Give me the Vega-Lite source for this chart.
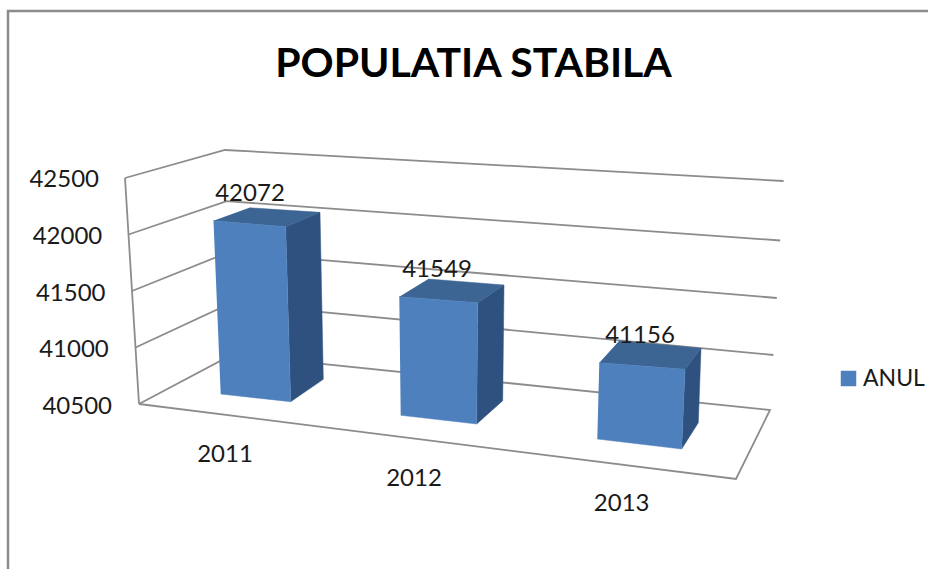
{
"$schema":"https://vega.github.io/schema/vega-lite/v6.json",
"autosize":"none","width":925,"height":565,
"padding":{"left":8,"top":11,"right":0,"bottom":0},
"background":"white",
"config":{"view":{"stroke":"#8c8c8c","strokeWidth":2.5}},
"title":{"text":"POPULATIA STABILA","font":"Lato","fontSize":41,"fontWeight":"bold","color":"#000000","anchor":"middle","offset":-75,"dx":3},
"datasets":{
"bars":[{"year":"2011","value":42072},{"year":"2012","value":41549},{"year":"2013","value":41156}],
"ticks":[{"value":40500},{"value":41000},{"value":41500},{"value":42000},{"value":42500}]
},
"encoding":{
"x":{"field":"sx","type":"quantitative","axis":null,"scale":{"domain":[8,933],"nice":false,"zero":false}},
"y":{"field":"sy","type":"quantitative","axis":null,"scale":{"domain":[11,576],"reverse":true,"nice":false,"zero":false}}
},
"layer":[
{"data":{"name":"ticks"},
"transform":[
{"calculate":"indexof([40500,41000,41500,42000,42500],datum.value)","as":"t"},
{"calculate":"datum.value-40500","as":"d"},
{"calculate":"[139-datum.d*0.007,404-datum.d*0.113]","as":"f"},
{"calculate":"[232-datum.d*0.0035,354.6-datum.d*0.1023]","as":"b"},
{"calculate":"[770+datum.d*0.0068,[410,355,298,240.5,181][datum.t]]","as":"r"},
{"calculate":"datum.t==0?[[datum.f[0],datum.f[1],0],[datum.b[0],datum.b[1],1],[datum.r[0],datum.r[1],2],[736,479,3],[datum.f[0],datum.f[1],4]]:[[datum.f[0],datum.f[1],0],[datum.b[0],datum.b[1],1],[datum.r[0],datum.r[1],2]]","as":"p"},
{"flatten":["p"]},
{"calculate":"datum.p[0]","as":"sx"},{"calculate":"datum.p[1]","as":"sy"},{"calculate":"datum.p[2]","as":"ord"}
],
"mark":{"type":"line","stroke":"#8c8c8c","strokeWidth":1.8},
"encoding":{"detail":{"field":"value"},"order":{"field":"ord","type":"quantitative"}}},
{"data":{"name":"ticks"},
"transform":[{"calculate":"139-(datum.value-40500)*0.007","as":"sx"},{"calculate":"404-(datum.value-40500)*0.113","as":"sy"}],
"mark":{"type":"line","stroke":"#8c8c8c","strokeWidth":1.8},
"encoding":{"order":{"field":"value","type":"quantitative"}}},
{"data":{"name":"ticks"},
"transform":[{"calculate":"112-(datum.value-40500)*0.0065","as":"sx"},{"calculate":"407-(datum.value-40500)*0.1135","as":"sy"}],
"mark":{"type":"text","font":"Lato","fontSize":24,"align":"right","baseline":"middle","color":"#1a1a1a"},
"encoding":{"text":{"field":"value","type":"quantitative","format":"d"}}},
{"data":{"name":"bars"},
"transform":[
{"calculate":"indexof(['2011','2012','2013'],datum.year)","as":"i"},
{"calculate":"datum.value-40500","as":"d"},
{"calculate":"[[[220.7,394,-0.00458,0.1102],[290.7,401.7,-0.00318,0.1113],[323.3,379.3,-0.0021,0.1062],[252.6,374.7,-0.0021,0.1062]],[[400.7,415.3,-0.00133,0.1131],[476.7,424,0.00095,0.1156],[502.7,400.7,0.00124,0.1103],[427,394.7,0.00124,0.1103]],[[597.3,439,0.00305,0.1163],[681.7,449,0.00503,0.1215],[698.3,422.7,0.00412,0.1134],[616.6,415.1,0.00412,0.1134]]][datum.i]","as":"corners"},
{"calculate":"[['front',0,0,0],['front',1,1,0],['front',2,1,1],['front',3,0,1],['side',0,1,0],['side',1,2,0],['side',2,2,1],['side',3,1,1],['top',0,0,1],['top',1,1,1],['top',2,2,1],['top',3,3,1]]","as":"v"},
{"flatten":["v"]},
{"calculate":"datum.v[0]","as":"face"},{"calculate":"datum.v[1]","as":"ord"},
{"calculate":"datum.corners[datum.v[2]][0]+datum.v[3]*datum.d*datum.corners[datum.v[2]][2]","as":"sx"},
{"calculate":"datum.corners[datum.v[2]][1]-datum.v[3]*datum.d*datum.corners[datum.v[2]][3]","as":"sy"}
],
"encoding":{"detail":{"field":"year"},"order":{"field":"ord","type":"quantitative"}},
"layer":[
{"transform":[{"filter":"datum.face=='side'"}],"mark":{"type":"line","fill":"#2f5180","stroke":"#2f5180","strokeWidth":0.5}},
{"transform":[{"filter":"datum.face=='top'"}],"mark":{"type":"line","fill":"#3c6593","stroke":"#3c6593","strokeWidth":0.5}},
{"transform":[{"filter":"datum.face=='front'"}],"mark":{"type":"line","fill":"#4e80bd","strokeWidth":0.5},
"encoding":{"stroke":{"datum":"ANUL","scale":{"range":["#4e80bd"]},"legend":{"title":null,"orient":"none","legendX":829,"legendY":356,"symbolType":"square","symbolSize":240,"symbolFillColor":"#4e80bd","symbolStrokeWidth":0,"labelFont":"Lato","labelFontSize":23,"labelColor":"#1a1a1a","labelOffset":3}}}}
]},
{"data":{"name":"bars"},
"transform":[
{"calculate":"indexof(['2011','2012','2013'],datum.year)","as":"i"},
{"calculate":"[250,437,640][datum.i]","as":"sx"},
{"calculate":"[394,415.3,439][datum.i]-(datum.value-40500)*[0.1102,0.1131,0.1163][datum.i]-27","as":"sy"}
],
"mark":{"type":"text","font":"Lato","fontSize":24,"align":"center","baseline":"middle","color":"#1a1a1a"},
"encoding":{"text":{"field":"value","type":"quantitative","format":"d"}}},
{"data":{"name":"bars"},
"transform":[
{"calculate":"indexof(['2011','2012','2013'],datum.year)","as":"i"},
{"calculate":"[225,414,621.7][datum.i]","as":"sx"},
{"calculate":"[455,478.7,504][datum.i]","as":"sy"}
],
"mark":{"type":"text","font":"Lato","fontSize":24,"align":"center","baseline":"middle","color":"#1a1a1a"},
"encoding":{"text":{"field":"year","type":"nominal"}}}
]
}
